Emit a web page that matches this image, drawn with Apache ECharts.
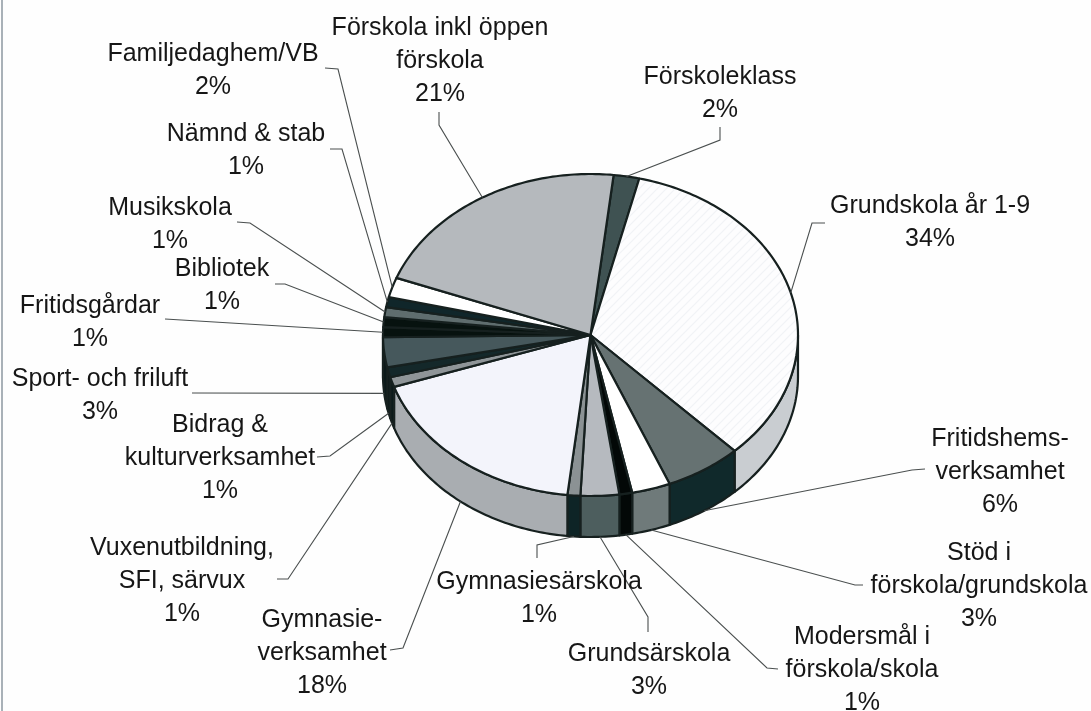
<!DOCTYPE html>
<html>
<head>
<meta charset="utf-8">
<title>Kostnadsfördelning</title>
<script src="https://cdn.jsdelivr.net/npm/echarts@6/dist/echarts.min.js"></script>
<style>
html,body{margin:0;padding:0;background:#fefefe;}
#main{width:1091px;height:711px;}
</style>
</head>
<body>
<div id="main"></div>
<script>
// data, clockwise from the top of the pie
var categories = ['Förskoleklass','Grundskola år 1-9','Fritidshems-\nverksamhet','Stöd i\nförskola/grundskola','Modersmål i\nförskola/skola','Grundsärskola','Gymnasiesärskola','Gymnasie-\nverksamhet','Vuxenutbildning,\nSFI, särvux','Bidrag &\nkulturverksamhet','Sport- och friluft','Fritidsgårdar','Bibliotek','Musikskola','Nämnd & stab','Familjedaghem/VB','Förskola inkl öppen\nförskola'];
var shares = [2,34,6,3,1,3,1,18,1,1,3,1,1,1,1,2,21];

// styles
var topColors = ['#3f5252','hatch','#667272','#ffffff','#030807','#b6babf','#8b9294','#f3f4fb','#8f9598','#14282a','#46585c','#07120f','#07120f','#5f6d6e','#10262a','#ffffff','#b5b9bd'];
var sideColors = ['#2a3a3a','#c9cdd1','#10292b','#6f7a7a','#030807','#4d5e5e','#0e2426','#a9adb1','#0c1a1a','#0c1a1a','#0c1a1a','#0c1a1a','#0c1a1a','#0c1a1a','#0c1a1a','#c0c0c0','#a9adb1'];

// layout
var cx = 590.5, cy = 335, rx = 207.5, ry = 161, depth = 41, startAngle = 6.4;
var labelCenters = [[720,77],[930,206],[1000,439],[979,553],[862,637],[649,654],[539,582],[322,620],[182,548],[220,425],[100,379],[90,306],[222,269],[170,208],[246,134],[213,54],[440,28]];
var leaderEnds = [[[720,140],[720,127]],[[812,223],[825,223]],[[912,470],[925,469]],[[855,585],[863,585]],[[767,668],[778,669]],[[648,617],[648,632]],[[537,545],[537,558]],[[403,648],[390,650]],[[288,579],[277,579]],[[330,456],[317,457]],[[192,393]],[[165,319]],[[285,284],[275,284]],[[250,223],[237,222]],[[342,149],[330,149]],[[338,69],[325,68]],[[439,125],[439,112]]];

var lineHeight = 33;
var edgeColor = '#16201f';
var total = shares.reduce(function(a,b){return a+b;},0);

function sliceStart(i){
	var sum = 0;
	for (var k = 0; k < i; k++) { sum += shares[k]; }
	return startAngle + sum / total * 360;
}
function sliceEnd(i){
	return sliceStart(i) + shares[i] / total * 360;
}
// angle in degrees from the top, clockwise
function rim(angle, drop){
	var r = angle * Math.PI / 180;
	return [cx + rx * Math.sin(r), cy - ry * Math.cos(r) + (drop || 0)];
}
function arc(a, b, drop){
	var pts = [];
	var n = Math.max(2, Math.ceil(Math.abs(b - a)));
	for (var k = 0; k <= n; k++) {
		pts.push(rim(a + (b - a) * k / n, drop));
	}
	return pts;
}

// faint diagonal hatch of the Grundskola slice
var hatch = document.createElement('canvas');
hatch.width = 9;
hatch.height = 9;
var hctx = hatch.getContext('2d');
hctx.fillStyle = '#fdfdfe';
hctx.fillRect(0,0,9,9);
hctx.strokeStyle = '#f1f3f6';
hctx.lineWidth = 1.2;
hctx.beginPath();
hctx.moveTo(-1,10);
hctx.lineTo(10,-1);
hctx.moveTo(-1,1);
hctx.lineTo(1,-1);
hctx.moveTo(8,10);
hctx.lineTo(10,8);
hctx.stroke();

function renderSide(params){
	var i = params.dataIndex;
	var a = Math.max(sliceStart(i), 90), b = Math.min(sliceEnd(i), 270);
	if (a >= b) { return null; }
	var pts = arc(a, b, 0).concat(arc(b, a, depth));
	return {
		type : 'polygon',
		shape : { points : pts },
		style : { fill : sideColors[i], stroke : edgeColor, lineWidth : 2.2, lineJoin : 'round' }
	};
}
function renderTop(params){
	var i = params.dataIndex;
	var pts = [[cx,cy]].concat(arc(sliceStart(i), sliceEnd(i), 0));
	var fill = topColors[i] === 'hatch' ? { image : hatch, repeat : 'repeat' } : topColors[i];
	return {
		type : 'polygon',
		shape : { points : pts },
		style : { fill : fill, stroke : edgeColor, lineWidth : 2.2, lineJoin : 'round' }
	};
}
function renderLeader(params){
	var i = params.dataIndex;
	var mid = (sliceStart(i) + sliceEnd(i)) / 2;
	var onFront = mid > 90 && mid < 270;
	var pts = [rim(mid, onFront ? depth : 0)].concat(leaderEnds[i]);
	return {
		type : 'polyline',
		shape : { points : pts },
		style : { fill : 'none', stroke : '#4a4f4f', lineWidth : 1.1 }
	};
}
function renderLabel(params){
	var i = params.dataIndex;
	var pos = labelCenters[i];
	return {
		type : 'text',
		x : pos[0],
		y : pos[1] - lineHeight / 2,
		style : {
			text : categories[i] + '\n' + shares[i] + '%',
			fontFamily : '"Liberation Sans", Arial, sans-serif',
			fontSize : 25,
			lineHeight : lineHeight,
			fill : '#161616',
			align : 'center',
			verticalAlign : 'top'
		}
	};
}

function layer(render, z){
	return {
		type : 'custom',
		coordinateSystem : 'none',
		renderItem : render,
		data : shares,
		z : z,
		silent : true,
		clip : false
	};
}

var myChart = echarts.init(document.getElementById('main'));
var option = {
	backgroundColor : '#fefefe',
	animation : false,
	// scan edge on the left of the picture
	graphic : [ {
		type : 'rect',
		shape : { x : 1, y : 0, width : 2, height : 711 },
		style : { fill : '#a9b1b8' }
	} ],
	series : [
		layer(renderSide, 1),
		layer(renderTop, 2),
		layer(renderLeader, 3),
		layer(renderLabel, 4)
	]
};
myChart.setOption(option);
</script>
</body>
</html>
